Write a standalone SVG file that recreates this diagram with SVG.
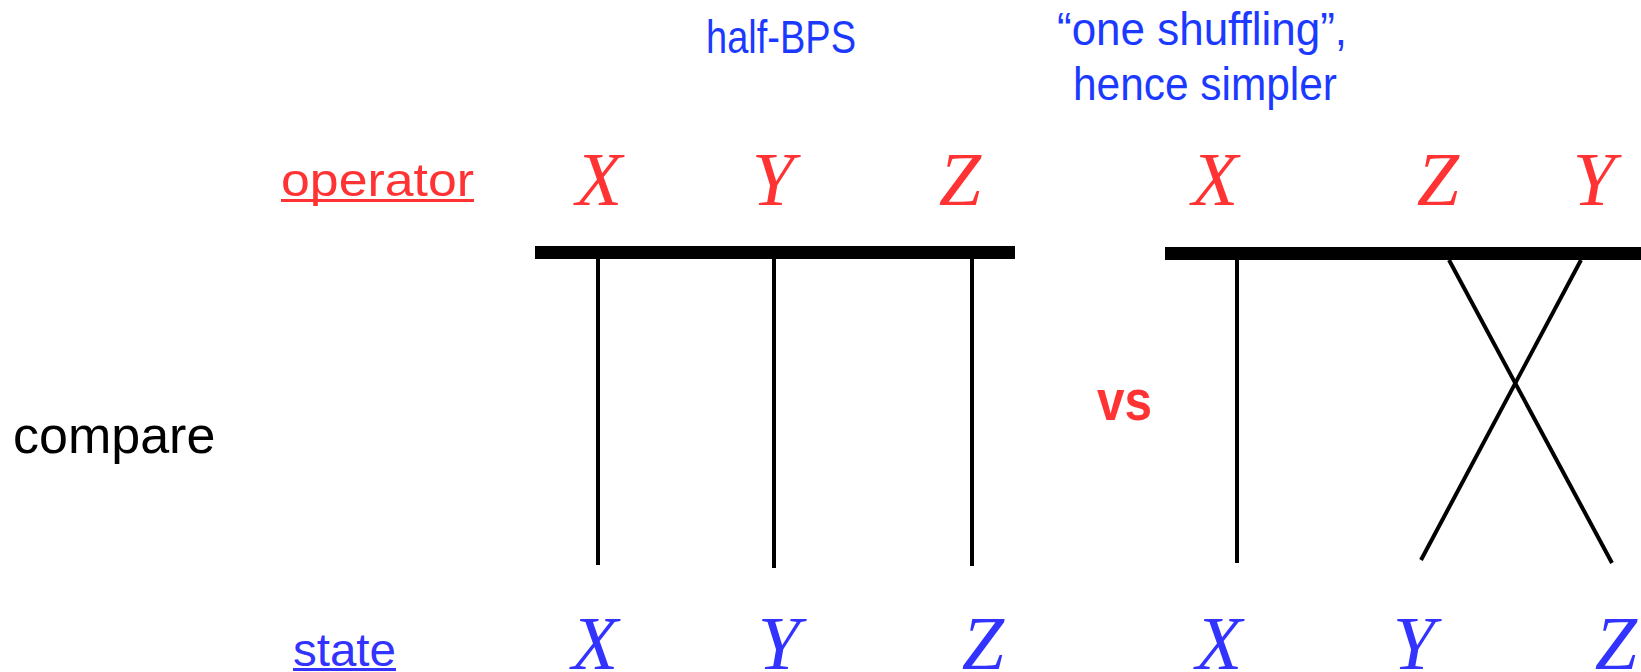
<svg xmlns="http://www.w3.org/2000/svg" width="1641" height="672" viewBox="0 0 1641 672">
<style>
.head{font-family:"Liberation Sans",Arial,sans-serif;font-size:46px;fill:#1c3aff}
.lab{font-family:"Liberation Sans",Arial,sans-serif;font-size:46px}
.op{fill:#ff3333}
.st{fill:#3333ff}
.var{font-family:"Liberation Serif","Times New Roman",serif;font-style:italic;font-size:76px;text-anchor:middle}
.bar{fill:#000}
.wire{stroke:#000;stroke-width:4;fill:none}
</style>
<rect width="1641" height="672" fill="#fff"/>
<g id="heading-left">
<text class="head" x="706" y="53" textLength="150" lengthAdjust="spacingAndGlyphs">half-BPS</text>
</g>
<g id="heading-right">
<text class="head" x="1057" y="45" textLength="290" lengthAdjust="spacingAndGlyphs">“one shuffling”,</text>
<text class="head" x="1073" y="100" textLength="264" lengthAdjust="spacingAndGlyphs">hence simpler</text>
</g>
<g id="operator-label">
<text class="lab op" x="281" y="196" textLength="193" lengthAdjust="spacingAndGlyphs">operator</text>
<rect x="281" y="199" width="193" height="3" fill="#ff3333"/>
</g>
<g id="state-label">
<text class="lab st" x="293" y="666" textLength="103" lengthAdjust="spacingAndGlyphs">state</text>
<rect x="293" y="668" width="103" height="3" fill="#3333ff"/>
</g>
<g id="compare-label">
<text x="13" y="453" font-family="'Liberation Sans',Arial,sans-serif" font-size="52" fill="#000">compare</text>
</g>
<g id="vs-label">
<text x="1097" y="420" font-family="'Liberation Sans',Arial,sans-serif" font-size="58" font-weight="bold" fill="#ff3333" textLength="55" lengthAdjust="spacingAndGlyphs">vs</text>
</g>
<g id="left-operators">
<text class="var op" x="599" y="205">X</text>
<text class="var op" x="773" y="205">Y</text>
<text class="var op" x="960" y="205">Z</text>
</g>
<g id="right-operators">
<text class="var op" x="1215" y="205">X</text>
<text class="var op" x="1438" y="205">Z</text>
<text class="var op" x="1594" y="205">Y</text>
</g>
<g id="left-states">
<text class="var st" x="595" y="669">X</text>
<text class="var st" x="779" y="669">Y</text>
<text class="var st" x="983" y="669">Z</text>
</g>
<g id="right-states">
<text class="var st" x="1219" y="669">X</text>
<text class="var st" x="1414" y="669">Y</text>
<text class="var st" x="1616" y="669">Z</text>
</g>
<g id="left-bar">
<rect class="bar" x="535" y="246" width="480" height="13"/>
</g>
<g id="right-bar">
<rect class="bar" x="1165" y="247" width="476" height="13"/>
</g>
<g id="connectors">
<line class="wire" x1="598" y1="259" x2="598" y2="565"/>
<line class="wire" x1="774" y1="259" x2="774" y2="568"/>
<line class="wire" x1="972" y1="259" x2="972" y2="566"/>
<line class="wire" x1="1237" y1="260" x2="1237" y2="563"/>
<line class="wire" x1="1449" y1="260" x2="1612" y2="563"/>
<line class="wire" x1="1581" y1="260" x2="1421" y2="560"/>
</g>
</svg>
